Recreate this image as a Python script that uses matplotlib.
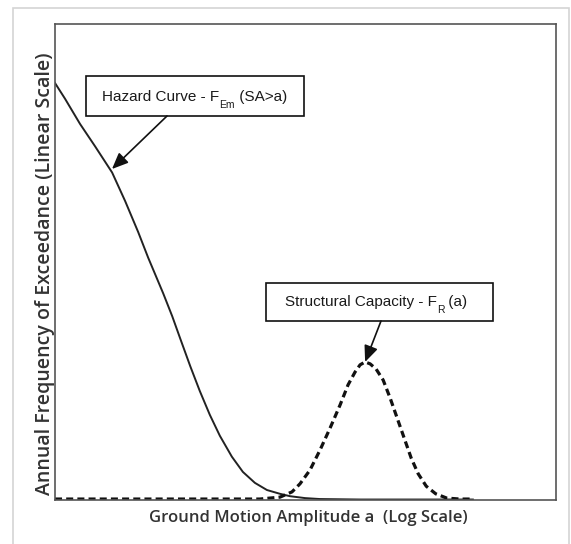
import matplotlib
matplotlib.use('Agg')
import matplotlib.pyplot as plt
from matplotlib.patches import Rectangle

# Hazard curve (x: 0-100 across the axes, y: 0-100 up the axes)
hazard_x = [0, 2.0, 5.0, 8.0, 11.4, 14.0, 16.6, 18.6, 21.6, 23.4, 25.0, 27.0, 28.9,
            30.9, 32.9, 35.3, 37.5, 39.9, 42.3, 44.9, 46.9, 49.9, 52.9, 60.9, 83.4]
hazard_y = [87.6, 84.3, 79.0, 74.3, 68.8, 62.8, 56.3, 50.9, 43.4, 38.6, 33.9, 28.1, 22.9,
            17.9, 13.5, 9.1, 5.9, 3.6, 2.1, 1.3, 0.8, 0.4, 0.2, 0.1, 0.1]

# Structural capacity (fragility density)
capacity_x = [0, 40.9, 44.9, 47.3, 48.9, 50.9, 52.9, 54.9, 56.9, 58.5, 59.9, 60.9, 61.9,
              62.9, 64.1, 65.5, 66.9, 68.3, 69.7, 71.1, 72.5, 74.1, 76.0, 78.2, 80.8, 83.4]
capacity_y = [0.2, 0.2, 0.6, 1.7, 3.4, 6.3, 10.5, 15.1, 19.96, 24.2, 26.9, 28.4, 29.0,
              28.6, 27.5, 25.2, 21.4, 17.2, 13.0, 8.8, 5.5, 2.9, 1.3, 0.4, 0.2, 0.2]

hazard_parts = [('Hazard Curve - F', 11, 0), ('Em', 7.5, 7), (' (SA>a)', 11, 0)]
capacity_parts = [('Structural Capacity - F', 11, 0), ('R', 7.5, 7), (' (a)', 11, 0)]
x_label = 'Ground Motion Amplitude a  (Log Scale)'
y_label = 'Annual Frequency of Exceedance (Linear Scale)'

W, H = 571, 544
fig = plt.figure(figsize=(W / 100, H / 100), dpi=100)
renderer = fig.canvas.get_renderer()


def fx(x):
    return x / W


def fy(y):
    return 1 - y / H


# light outer frame
fig.patches.append(Rectangle((fx(13), -0.05), (569 - 13) / W, 1.05 - 8 / H,
                             transform=fig.transFigure, fill=False,
                             edgecolor='#d4d4d4', linewidth=1.2))

ax = fig.add_axes([fx(55), fy(500), 501 / W, 476 / H])
ax.set_xlim(0, 100)
ax.set_ylim(0, 100)
ax.set_xticks([])
ax.set_yticks([])
for s in ax.spines.values():
    s.set_color('#555555')
    s.set_linewidth(1.2)

ax.plot(hazard_x, hazard_y, color='#222222', linewidth=1.4)
ax.plot(capacity_x, capacity_y, color='#111111', linewidth=2.3, linestyle=(0, (2.2, 1.3)))

# axis titles placed in pixel positions
fig.text(fx(308), fy(522), x_label, fontsize=12, family='Open Sans', fontweight='semibold',
         color='#333333', ha='center', va='baseline')
fig.text(fx(45), fy(274), y_label, fontsize=14, family='Open Sans', fontweight='semibold',
         color='#333333', ha='center', va='center', rotation=90)


def px(x, y):
    return ((x - 55) / 501 * 100, (500 - y) / 476 * 100)


def rich_text(x, y, parts):
    # draw pieces one after the other, subscripts lowered
    for s, size, dy in parts:
        t = fig.text(fx(x), fy(y + dy), s, fontsize=size, family='Liberation Sans',
                     color='#1a1a1a', ha='left', va='baseline', zorder=5)
        x += t.get_window_extent(renderer).width


arrow = dict(arrowstyle='-|>,head_length=0.7,head_width=0.3', color='#111111',
             linewidth=1.2, mutation_scale=14, shrinkA=0, shrinkB=0)

# hazard box
ax.add_patch(Rectangle(px(86, 116), (304 - 86) / 5.01, (116 - 76) / 4.76,
                       facecolor='white', edgecolor='#111111', linewidth=1.2, zorder=3))
rich_text(102, 101, hazard_parts)
ax.annotate('', xy=px(112, 169), xytext=px(167, 116), arrowprops=arrow)

# capacity box
ax.add_patch(Rectangle(px(266, 321), (493 - 266) / 5.01, (321 - 283) / 4.76,
                       facecolor='white', edgecolor='#111111', linewidth=1.2, zorder=3))
rich_text(285, 306, capacity_parts)
ax.annotate('', xy=(61.9, 29.0), xytext=px(381, 321), arrowprops=arrow)

fig.savefig('out.png', dpi=100)
